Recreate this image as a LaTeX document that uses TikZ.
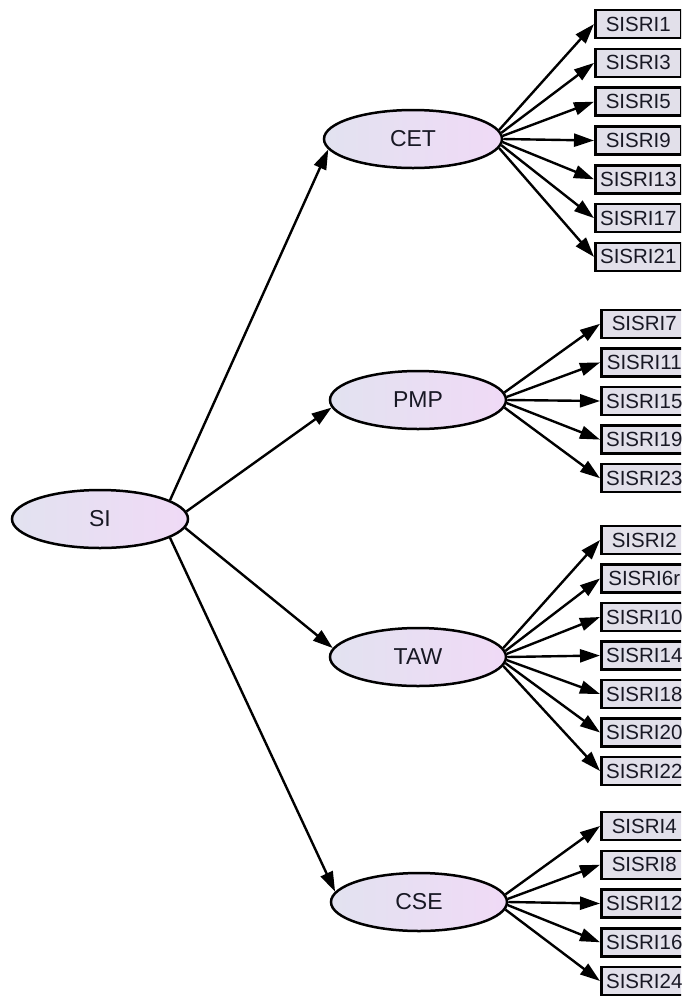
\documentclass[tikz,border=0pt]{standalone}
\usepackage{fontspec}
\setmainfont{Liberation Sans}
\usetikzlibrary{shapes.geometric,arrows.meta}

\definecolor{latentL}{RGB}{226,226,240}
\definecolor{latentR}{RGB}{240,218,246}
\definecolor{obsfill}{RGB}{226,224,234}
\definecolor{ink}{RGB}{24,24,36}

\tikzset{
  latent/.style={ellipse, draw=black, line width=2.5pt,
    left color=latentL, right color=latentR,
    minimum width=176pt, minimum height=58pt, inner sep=0pt,
    font=\fontsize{23}{26}\selectfont, text=ink},
  observed/.style={rectangle, draw=black, line width=2.5pt, fill=obsfill,
    minimum width=86pt, minimum height=28pt, inner sep=0pt, anchor=west,
    font=\fontsize{20.5}{24}\selectfont, text=ink},
  loading/.style={line width=2.4pt, draw=black,
    -{Triangle[length=20pt,width=13pt]}}
}

\begin{document}
\begin{tikzpicture}[x=1pt,y=-1pt]
  \useasboundingbox (0,0) rectangle (681,997);
  \clip (0,0) rectangle (681,997);

  % second-order factor and first-order factors
  \node[latent] (si)  at (100,519) {SI};
  \node[latent, minimum width=178pt] (cet) at (413,139) {CET};
  \node[latent] (pmp) at (418,400) {PMP};
  \node[latent] (taw) at (418,657) {TAW};
  \node[latent] (cse) at (419,902) {CSE};

  \draw[loading] (si.15) -- (cet.187);
  \draw[loading] (si.5)  -- (pmp.185);
  \draw[loading] (si.-6) -- (taw.174);
  \draw[loading] (si.-15) -- (cse.173);

  % CET indicators
  \foreach \lab [count=\i] in {SISRI1,SISRI3,SISRI5,SISRI9,SISRI13,SISRI17,SISRI21}{
    \pgfmathsetmacro{\ang}{8-2*\i}
    \node[observed] (cet\i) at (594,{140.5+(\i-4)*38.8}) {\lab};
    \draw[loading] (cet.\ang) -- (cet\i.west);
  }

  % PMP indicators
  \foreach \lab [count=\i] in {SISRI7,SISRI11,SISRI15,SISRI19,SISRI23}{
    \pgfmathsetmacro{\ang}{7.5-2.5*\i}
    \node[observed] (pmp\i) at (600,{401+(\i-3)*38.6}) {\lab};
    \draw[loading] (pmp.\ang) -- (pmp\i.west);
  }

  % TAW indicators
  \foreach \lab [count=\i] in {SISRI2,SISRI6r,SISRI10,SISRI14,SISRI18,SISRI20,SISRI22}{
    \pgfmathsetmacro{\ang}{8-2*\i}
    \node[observed] (taw\i) at (600,{655.5+(\i-4)*38.5}) {\lab};
    \draw[loading] (taw.\ang) -- (taw\i.west);
  }

  % CSE indicators
  \foreach \lab [count=\i] in {SISRI4,SISRI8,SISRI12,SISRI16,SISRI24}{
    \pgfmathsetmacro{\ang}{7.5-2.5*\i}
    \node[observed] (cse\i) at (600,{903.5+(\i-3)*38.75}) {\lab};
    \draw[loading] (cse.\ang) -- (cse\i.west);
  }
\end{tikzpicture}
\end{document}
